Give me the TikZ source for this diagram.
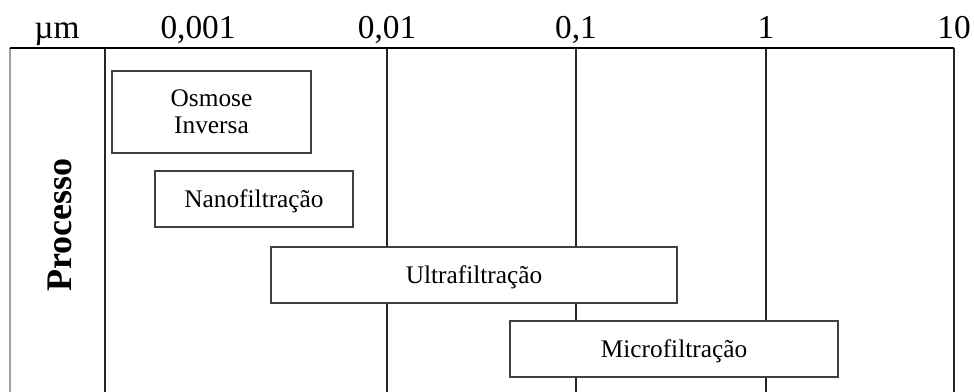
\documentclass[tikz,border=0pt]{standalone}
\usepackage{fontspec}
\setmainfont{Liberation Serif}
\usepackage{tikz}
\usepackage{xcolor}

\definecolor{boxgray}{RGB}{64,64,64}
\definecolor{leftgray}{RGB}{160,160,160}

\begin{document}
\begin{tikzpicture}[x=0.75pt,y=0.75pt,yscale=-1,xscale=1,
  procbox/.style={draw=boxgray,line width=1.1pt,fill=white,inner sep=0pt,align=center,font=\fontsize{19}{20}\selectfont},
  oneline/.style={text height=13pt,text depth=0pt},
  scalelbl/.style={anchor=base,inner sep=0pt,font=\fontsize{25}{30}\selectfont},
  gridline/.style={line width=1.1pt,color=black!85}]
%uncomment if require: \path (0,392); %set diagram left start at 0, and has height of 392
\useasboundingbox (0,0) rectangle (974,392);
%Straight Lines [left border]
\draw [line width=1.5pt,color=leftgray]  (10,48) -- (10,392) ;
%Straight Lines [columns]
\foreach \xv in {105,387,576,766,954}
  \draw [gridline]  (\xv,48) -- (\xv,392) ;
%Straight Lines [top rule]
\draw [line width=1.6pt]  (10,48) -- (954,48) ;

% Text Node
\node [scalelbl] (um) at (57,39) {µm};
% Text Node
\node [scalelbl] (l0001) at (198,39) {0,001};
% Text Node
\node [scalelbl] (l001) at (387,39) {0,01};
% Text Node
\node [scalelbl] (l01) at (576,39) {0,1};
% Text Node
\node [scalelbl] (l1) at (766,39) {1};
% Text Node
\node [scalelbl] (l10) at (954,39) {10};

% Text Node
\node [rotate=90,inner sep=0pt,font=\bfseries\fontsize{27}{30}\selectfont] (proc) at (59.5,225) {Processo};

%Shape: Rectangle [Osmose]
\node [procbox,minimum width=149.25pt,minimum height=61.5pt] (osmose) at (211.5,112) {Osmose\\Inversa};
%Shape: Rectangle [Nano]
\node [procbox,oneline,minimum width=148.5pt,minimum height=42pt] (nano) at (254,199) {Nanofiltração};
%Shape: Rectangle [Ultra]
\node [procbox,oneline,minimum width=304.5pt,minimum height=42pt] (ultra) at (474,275) {Ultrafiltração};
%Shape: Rectangle [Micro]
\node [procbox,oneline,minimum width=246pt,minimum height=42pt] (micro) at (674,349) {Microfiltração};

\end{tikzpicture}
\end{document}
